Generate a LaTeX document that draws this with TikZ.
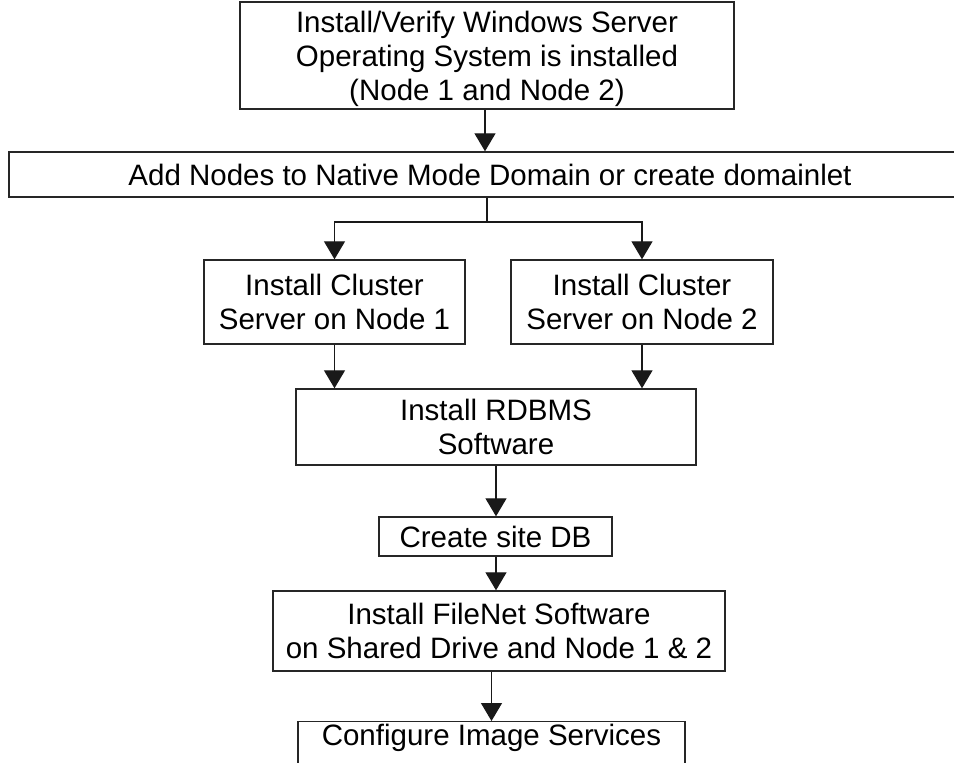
\documentclass[tikz,border=0pt]{standalone}
\usepackage{fontspec}
\setmainfont{Liberation Sans}
\usetikzlibrary{arrows.meta}
\tikzset{
  box/.style={draw=black!85, line width=1.4pt, inner sep=0pt, align=center,
    font=\fontsize{29.5}{34}\selectfont},
  conn/.style={line width=1.3pt, draw=black!90},
  arr/.style={conn, -{Triangle[width=21pt,length=18pt]}}
}
\begin{document}
\begin{tikzpicture}[x=1pt,y=-1pt]
\useasboundingbox (0,0) rectangle (954,763);
\fill[white] (0,0) rectangle (954,763);
\node[box, minimum width=494pt, minimum height=107pt] (b1) at (487,55.5)
  {\rule{0pt}{28pt}Install/Verify Windows Server\\Operating System is installed\\(Node 1 and Node 2)};
\node[box, minimum width=962pt, minimum height=45pt] (b2) at (490,174.5)
  {Add Nodes to Native Mode Domain or create domainlet};
\node[box, minimum width=261pt, minimum height=84pt] (c1) at (334.5,302)
  {Install Cluster\\Server on Node 1};
\node[box, minimum width=262pt, minimum height=84pt] (c2) at (642,302)
  {Install Cluster\\Server on Node 2};
\node[box, minimum width=400pt, minimum height=76pt] (rd) at (496,427)
  {Install RDBMS\\Software};
\node[box, minimum width=233pt, minimum height=39pt] (db) at (495.5,536.5)
  {Create site DB};
\node[box, minimum width=452pt, minimum height=80pt] (fn) at (499,631)
  {Install FileNet Software\\on Shared Drive and Node 1 \& 2};
\node[box, minimum width=387pt, anchor=north, inner ysep=4pt, text height=20pt, text depth=40pt] (cf) at (491.5,721)
  {Configure Image Services};
\coordinate (j) at (487,222);
\coordinate (a1) at (485,0);
\draw[arr] (b1.south -| a1) -- (b2.north -| a1);
\draw[conn] (b2.south -| j) -- (j);
\draw[arr] (j) -| (c1.north);
\draw[arr] (j) -| (c2.north);
\draw[arr] (c1.south) -- (rd.north -| c1.south);
\draw[arr] (c2.south) -- (rd.north -| c2.south);
\draw[arr] (rd.south) -- (db.north -| rd.south);
\draw[arr] (db.south -| rd.south) -- (fn.north -| rd.south);
\draw[arr] (fn.south -| cf.north) -- (cf.north);
\end{tikzpicture}
\end{document}
